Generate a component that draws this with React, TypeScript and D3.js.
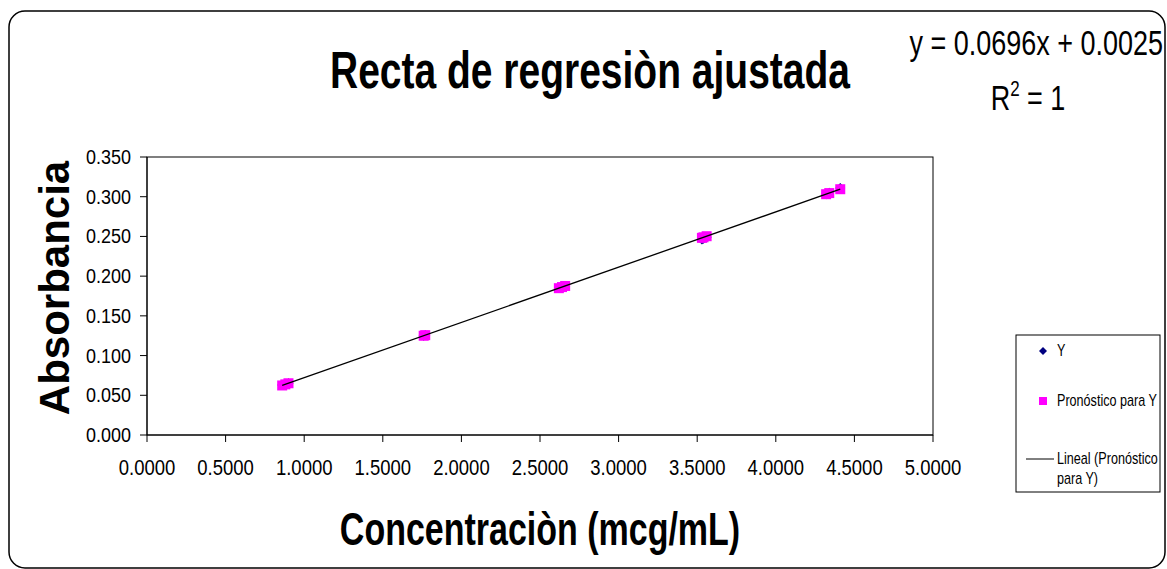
import React from 'react';
import * as d3 from 'd3';

// datos
const concentracion = [0.86, 0.88, 0.9, 1.76, 1.77, 2.62, 2.64, 2.66, 3.53, 3.54, 3.56, 4.32, 4.34, 4.41];
const absorbanciaY = [0.063, 0.064, 0.065, 0.125, 0.126, 0.185, 0.186, 0.187, 0.246, 0.247, 0.249, 0.303, 0.305, 0.311];
const pendiente = 0.0696;
const intercepto = 0.0025;
const pronostico = concentracion.map(x => pendiente * x + intercepto);

const xTicks = [0, 0.5, 1, 1.5, 2, 2.5, 3, 3.5, 4, 4.5, 5];
const yTicks = [0, 0.05, 0.1, 0.15, 0.2, 0.25, 0.3, 0.35];

const W = 1167;
const H = 569;
const font = '"Liberation Sans", Arial, sans-serif';

// texto estirado en vertical como en la imagen original
const T = ({ x, y, sy = 1.25, size, anchor = 'start', bold = false, children }: any) => (
  <text transform={`translate(${x},${y}) scale(1,${sy})`} textAnchor={anchor} fontSize={size} fontWeight={bold ? 'bold' : 'normal'}>
    {children}
  </text>
);

// rombo regular (cuadrado girado)
const rombo = 'M0,-5L5,0L0,5L-5,0Z';

export default function App() {
  // area del grafico
  const left = 147, right = 933, top = 157, bottom = 435;

  const x = d3.scaleLinear().domain([0, 5]).range([left, right]);
  const y = d3.scaleLinear().domain([0, 0.35]).range([bottom, top]);

  const xMin = d3.min(concentracion) as number;
  const xMax = d3.max(concentracion) as number;
  const trend = d3.line<number>()
    .x(d => x(d))
    .y(d => y(pendiente * d + intercepto));

  return (
    <svg width={W} height={H} style={{ position: 'absolute', left: 0, top: 0, background: '#fff' }} fontFamily={font}>
      <rect x={9} y={11} width={1156} height={557} rx={16} fill="#fff" stroke="#000" strokeWidth={1.5} />

      {/* titulo */}
      <T x={590} y={88} sy={1.33} size={39} anchor="middle" bold>Recta de regresiòn ajustada</T>

      {/* ecuacion */}
      <T x={1163} y={55} sy={1.3} size={27} anchor="end">y = 0.0696x + 0.0025</T>
      <T x={1028} y={110} sy={1.3} size={27} anchor="middle">
        R<tspan dy={-11} fontSize={17}>2</tspan><tspan dy={11}> = 1</tspan>
      </T>

      {/* marco del area */}
      <rect x={left} y={top} width={right - left} height={bottom - top} fill="none" stroke="#000" strokeWidth={1} />

      {/* eje y */}
      <line x1={left} x2={left} y1={top} y2={bottom} stroke="#000" />
      {yTicks.map(t => (
        <g key={'y' + t}>
          <line x1={left - 7} x2={left} y1={y(t)} y2={y(t)} stroke="#000" />
          <T x={left - 16} y={y(t) + 7} sy={1.15} size={18} anchor="end">{t.toFixed(3)}</T>
        </g>
      ))}

      {/* eje x */}
      <line x1={left} x2={right} y1={bottom} y2={bottom} stroke="#000" />
      {xTicks.map(t => (
        <g key={'x' + t}>
          <line x1={x(t)} x2={x(t)} y1={bottom} y2={bottom + 7} stroke="#000" />
          <T x={x(t)} y={bottom + 40} sy={1.15} size={18.5} anchor="middle">{t.toFixed(4)}</T>
        </g>
      ))}

      <T x={540} y={545} sy={1.35} size={34} anchor="middle" bold>Concentraciòn (mcg/mL)</T>
      <text transform={`translate(69, 288) rotate(-90)`} textAnchor="middle" fontSize={42} fontWeight="bold">Absorbancia</text>

      {/* puntos Y */}
      {concentracion.map((c, i) => (
        <path key={'d' + i} d={rombo} transform={`translate(${x(c)},${y(absorbanciaY[i])})`} fill="#000080" />
      ))}
      {/* pronostico */}
      {concentracion.map((c, i) => (
        <rect key={'s' + i} x={x(c) - 5} y={y(pronostico[i]) - 5} width={10} height={10} fill="#ff00ff" />
      ))}
      {/* linea de tendencia */}
      <path d={trend([xMin, xMax]) || ''} fill="none" stroke="#000" strokeWidth={1.3} />

      {/* leyenda */}
      <rect x={1016} y={335} width={144} height={157} fill="#fff" stroke="#000" strokeWidth={1} />
      <path d={rombo} transform="translate(1043,351) scale(0.8)" fill="#000080" />
      <T x={1057} y={356} size={12.6}>Y</T>
      <rect x={1039} y={397} width={8} height={8} fill="#ff00ff" />
      <T x={1057} y={406} size={12.6}>Pronóstico para Y</T>
      <line x1={1026} x2={1054} y1={459} y2={459} stroke="#000" />
      <T x={1057} y={464} size={12.6}>Lineal (Pronóstico</T>
      <T x={1057} y={484} size={12.6}>para Y)</T>
    </svg>
  );
}
